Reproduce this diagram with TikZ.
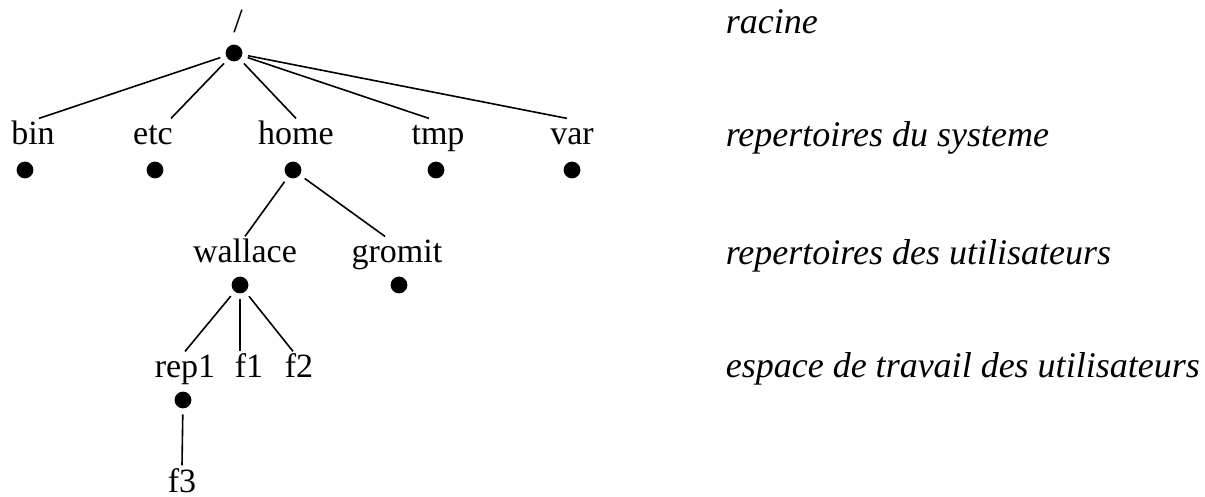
\documentclass[tikz,border=0pt]{standalone}
\usepackage{fontspec}
\setmainfont{Liberation Serif}

\begin{document}
\begin{tikzpicture}[x=0.5pt,y=-0.5pt,line width=0.8pt,
		dir/.style={inner sep=0pt,outer sep=1.5pt,anchor=base,
			font=\fontsize{17}{20}\selectfont,text height=11.8pt,text depth=3.5pt},
		pt/.style={circle,fill,inner sep=0pt,minimum size=8.4pt,outer sep=3pt},
		note/.style={inner sep=0pt,anchor=base west,font=\fontsize{18}{22}\selectfont\itshape}]
		\useasboundingbox (0,0) rectangle (1205,497);
		
		% racine
		\node[dir] (root) at (238,33) {/};
		\node[pt]  (rootd) at (234,53) {};
		
		% repertoires du systeme
		\node[dir] (bin)  at (33,145)  {bin};
		\node[dir] (etc)  at (153,145) {etc};
		\node[dir] (home) at (296,145) {home};
		\node[dir] (tmp)  at (438,145) {tmp};
		\node[dir] (var)  at (572,145) {var};
		\node[pt] (bind)  at (25,170)  {};
		\node[pt] (etcd)  at (155,170) {};
		\node[pt] (homed) at (293,170) {};
		\node[pt] (tmpd)  at (436,170) {};
		\node[pt] (vard)  at (572,170) {};
		
		% utilisateurs
		\node[dir] (wal) at (245,263) {wallace};
		\node[dir] (gro) at (397,263) {gromit};
		\node[pt] (wald) at (240,285) {};
		\node[pt] (grod) at (399,285) {};
		
		% espace de travail
		\node[dir] (rep) at (185,378) {rep1};
		\node[dir] (f1)  at (249,378) {f1};
		\node[dir] (f2)  at (299,378) {f2};
		\node[pt]  (repd) at (183,400) {};
		\node[dir] (f3)  at (182,492) {f3};
		
		\draw (rootd) -- ([xshift=3pt]bin.north);
		\draw (rootd) -- ([xshift=9pt]etc.north);
		\draw (rootd) -- (home.north);
		\draw (rootd) -- ([xshift=-4.5pt]tmp.north);
		\draw (rootd) -- ([xshift=-2.5pt]var.north);
		\draw (homed) -- (wal.north);
		\draw (homed) -- ([xshift=-6pt]gro.north);
		\draw (wald) -- (rep.north);
		\draw (wald) -- (wald |- f1.north);
		\draw (wald) -- ([xshift=-3pt]f2.north);
		\draw (repd) -- (f3.north);
		
		\node[note] (n0) at (725,34)  {racine};
		\node[note] (n1) at (725,147) {repertoires du systeme};
		\node[note] (n2) at (725,265) {repertoires des utilisateurs};
		\node[note] (n3) at (725,378) {espace de travail des utilisateurs};
	\end{tikzpicture}
\end{document}
